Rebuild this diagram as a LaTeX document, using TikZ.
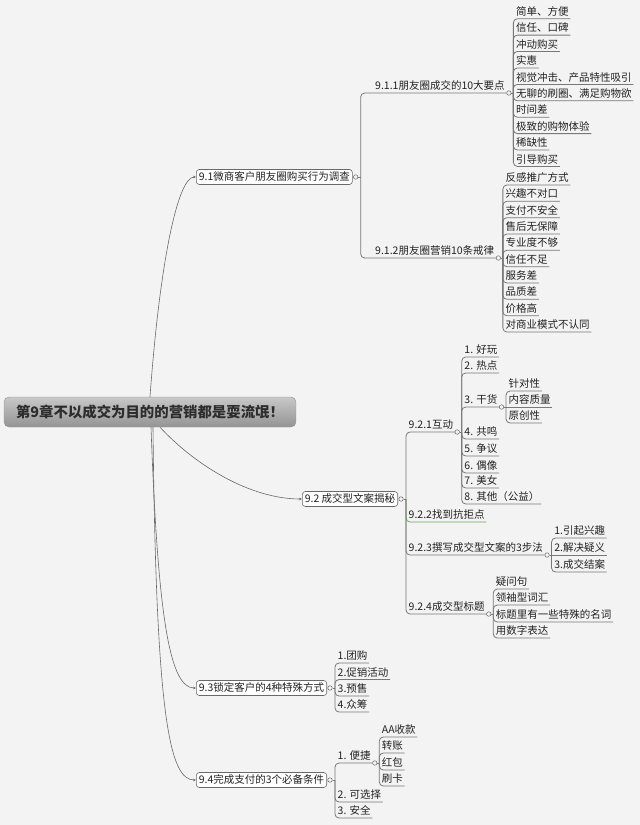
\documentclass[tikz,border=0pt]{standalone}
\usepackage{fontspec}
\setmainfont{Noto Sans CJK SC}
\usetikzlibrary{arrows.meta}
\definecolor{bg}{RGB}{243,243,243}
\definecolor{ln}{RGB}{105,105,105}
\definecolor{ul}{RGB}{120,120,120}
\definecolor{tx}{RGB}{34,34,34}
\definecolor{grn}{RGB}{110,165,95}
\definecolor{rtop}{RGB}{200,200,200}
\definecolor{rbot}{RGB}{148,148,148}
\definecolor{rtx}{RGB}{45,45,45}
\tikzset{
  leaf/.style={anchor=south west, inner xsep=1.5pt, inner ysep=1.2pt,
    text height=8pt, text depth=2pt, font=\fontsize{10.5}{12}\selectfont, text=tx},
  topic/.style={draw=ln, fill=white, rounded corners=3pt, inner xsep=2.5pt,
    inner ysep=2.5pt, text height=8pt, text depth=2pt, line width=0.6pt,
    font=\fontsize{10.5}{12}\selectfont, text=tx},
  rootbox/.style={draw=rbot, rounded corners=5pt, top color=rtop, bottom color=rbot,
    minimum width=292pt, minimum height=30pt, inner sep=0pt,
    font=\fontsize{14.4}{16}\selectfont\bfseries, text=rtx},
  ind/.style={circle, draw=ln, fill=bg, inner sep=0pt, minimum size=4.5pt, line width=0.5pt},
  uline/.style={draw=ul, line width=0.8pt, rounded corners=4pt},
  curve/.style={draw=ln, line width=0.6pt, -{Stealth[length=3pt,width=2.6pt]}},
}
% child on an underline, joined to spine #2
\newcommand\mmkid[4]{%
  \node[leaf,xshift=1pt] (#1) at (#2 |- 0,#3) {#4};
  \draw[uline] (#2) |- (#1.south east);}
\newcommand\mmkidflat[4]{%
  \node[leaf,xshift=1pt] (#1) at (#2 |- 0,#3) {#4};
  \draw[uline] (#2) -- (#1.south east);}
% indicator circle and spine start after underline node #1
\newcommand\mmind[2]{%
  \node[ind] (i#1) at ([xshift=2.5pt]#1.south east) {};
  \path (i#1.east) ++(2pt,0) coordinate (#2);
  \draw[uline] (i#1.east) -- (#2);}
\newcommand\mmboxind[2]{%
  \node[ind] (i#1) at ([xshift=3pt]#1.east) {};
  \path (i#1.east) ++(2.5pt,0) coordinate (#2);
  \draw[uline] (i#1.east) -- (#2);}
\begin{document}
\begin{tikzpicture}[x=1pt,y=-1pt]
\fill[bg] (0,0) rectangle (640,825);
\useasboundingbox (0,0) rectangle (640,825);

% root
\node[rootbox] (root) at (150,412) {第9章不以成交为目的的营销都是耍流氓！};

% main topics
\node[topic, anchor=west] (n91) at (196,177) {9.1微商客户朋友圈购买行为调查};
\node[topic, anchor=west] (n92) at (302,499) {9.2 成交型文案揭秘};
\node[topic, anchor=west] (n93) at (196,688) {9.3锁定客户的4种特殊方式};
\node[topic, anchor=west] (n94) at (196,780) {9.4完成支付的3个必备条件};

\draw[curve] (root.north) .. controls (160,260) and (178,177) .. (n91.west);
\draw[curve] ([xshift=10pt]root.south) .. controls (195,465) and (250,499) .. (n92.west);
\draw[curve] ([xshift=1pt]root.south) .. controls (158,620) and (170,688) .. (n93.west);
\draw[curve] ([xshift=3pt]root.south) .. controls (156,720) and (170,780) .. (n94.west);

% ---------- 9.1 ----------
\mmboxind{n91}{s91}
\node[leaf] (n911) at (373.5,93) {9.1.1朋友圈成交的10大要点};
\node[leaf] (n912) at (373.5,258) {9.1.2朋友圈营销10条戒律};
\draw[uline] (s91) |- (n911.south east);
\draw[uline] (s91) |- (n912.south east);

\mmind{n911}{s911}
\mmkid{a1}{s911}{18.7}{简单、方便}
\mmkid{a2}{s911}{35.1}{信任、口碑}
\mmkid{a3}{s911}{51.5}{冲动购买}
\mmkid{a4}{s911}{68}{实惠}
\mmkid{a5}{s911}{84.4}{视觉冲击、产品特性吸引}
\mmkid{a6}{s911}{100.8}{无聊的刷圈、满足购物欲}
\mmkid{a7}{s911}{117.2}{时间差}
\mmkid{a8}{s911}{133.6}{极致的购物体验}
\mmkid{a9}{s911}{150}{稀缺性}
\mmkid{a10}{s911}{166.4}{引导购买}

\mmind{n912}{s912}
\mmkid{b1}{s912}{185}{反感推广方式}
\mmkid{b2}{s912}{201.3}{兴趣不对口}
\mmkid{b3}{s912}{217.7}{支付不安全}
\mmkid{b4}{s912}{234}{售后无保障}
\mmkid{b5}{s912}{250.3}{专业度不够}
\mmkid{b6}{s912}{266.7}{信任不足}
\mmkid{b7}{s912}{283}{服务差}
\mmkid{b8}{s912}{299.3}{品质差}
\mmkid{b9}{s912}{315.7}{价格高}
\mmkid{b10}{s912}{332}{对商业模式不认同}

% ---------- 9.2 ----------
\mmboxind{n92}{s92}
\mmkid{n921}{s92}{432}{9.2.1互动}
\node[leaf,xshift=1pt] (n922) at (s92 |- 0,522) {9.2.2找到抗拒点};
\draw[uline, draw=grn] (s92) |- (n922.south east);
\mmkid{n923}{s92}{555}{9.2.3撰写成交型文案的3步法}
\mmkid{n924}{s92}{614}{9.2.4成交型标题}

\mmind{n921}{s921}
\mmkid{c1}{s921}{357}{1. 好玩}
\mmkid{c2}{s921}{373}{2. 热点}
\mmkid{c3}{s921}{407}{3. 干货}
\mmkid{c4}{s921}{439}{4. 共鸣}
\mmkid{c5}{s921}{456}{5. 争议}
\mmkid{c6}{s921}{473}{6. 偶像}
\mmkid{c7}{s921}{488}{7. 美女}
\mmkid{c8}{s921}{504}{8. 其他（公益）}

\mmind{c3}{sc3}
\mmkid{d1}{sc3}{391}{针对性}
\mmkidflat{d2}{sc3}{407}{内容质量}
\mmkid{d3}{sc3}{423}{原创性}

\mmind{n923}{s923}
\mmkid{e1}{s923}{538}{1.引起兴趣}
\mmkidflat{e2}{s923}{555}{2.解决疑义}
\mmkid{e3}{s923}{572}{3.成交结案}

\mmind{n924}{s924}
\mmkid{f1}{s924}{589}{疑问句}
\mmkid{f2}{s924}{605}{领袖型词汇}
\mmkid{f3}{s924}{622}{标题里有一些特殊的名词}
\mmkid{f4}{s924}{638}{用数字表达}

% ---------- 9.3 ----------
\mmboxind{n93}{s93}
\mmkid{g1}{s93}{663}{1.团购}
\mmkid{g2}{s93}{679.5}{2.促销活动}
\mmkid{g3}{s93}{696}{3.预售}
\mmkid{g4}{s93}{712}{4.众筹}

% ---------- 9.4 ----------
\mmboxind{n94}{s94}
\mmkid{h1}{s94}{763}{1. 便捷}
\mmkid{h2}{s94}{802}{2. 可选择}
\mmkid{h3}{s94}{818}{3. 安全}

\mmind{h1}{sh1}
\mmkid{k1}{sh1}{737}{AA收款}
\mmkid{k2}{sh1}{753}{转账}
\mmkid{k3}{sh1}{770}{红包}
\mmkid{k4}{sh1}{786}{刷卡}
\end{tikzpicture}
\end{document}
